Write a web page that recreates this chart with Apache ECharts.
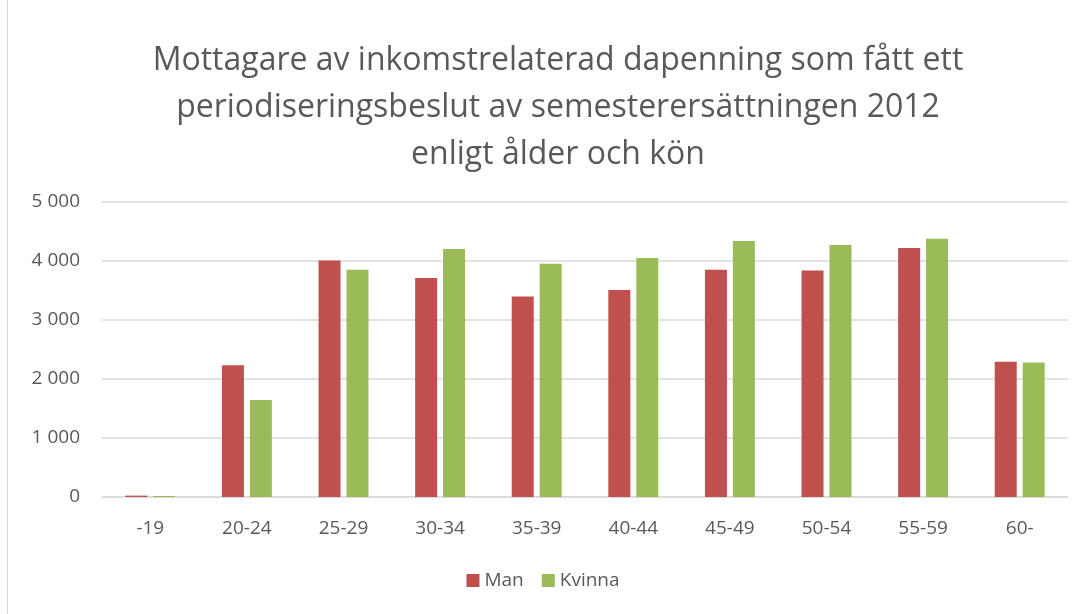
<!DOCTYPE html>
<html lang="sv">
<head>
    <meta charset="UTF-8">
    <title>Periodiseringsbeslut 2012</title>
    <script src="https://cdn.jsdelivr.net/npm/echarts@6/dist/echarts.min.js"></script>
    <style>
        html, body { margin: 0; padding: 0; background: #fff; }
        #chart { width: 1086px; height: 614px; }
    </style>
</head>
<body>
<div id="chart"></div>
<script>
    // åldersgrupper
    const ageGroups = ['-19', '20-24', '25-29', '30-34', '35-39', '40-44', '45-49', '50-54', '55-59', '60-'];
    // avlästa värden
    const man =    [23, 2234, 4010, 3710, 3399, 3507, 3852, 3840, 4219, 2291];
    const kvinna = [17, 1646, 3852, 4202, 3954, 4050, 4338, 4270, 4378, 2279];
    const yTicks = [0, 1000, 2000, 3000, 4000, 5000];

    const textColor = '#595959';
    const font = 'Open Sans';

    const chart = echarts.init(document.getElementById('chart'));
    chart.setOption({
        animation: false,
        textStyle: { fontFamily: font },
        graphic: [{
            type: 'rect',
            shape: { x: 7.5, y: -2, width: 1090, height: 620 },
            style: { fill: 'none', stroke: '#d9d9d9', lineWidth: 1 }
        }],
        title: {
            text: 'Mottagare av inkomstrelaterad dapenning som fått ett\nperiodiseringsbeslut av semesterersättningen 2012\nenligt ålder och kön',
            left: 553,
            textAlign: 'center',
            top: 32,
            textStyle: {
                color: textColor,
                fontFamily: font,
                fontWeight: 'normal',
                fontSize: 32,
                lineHeight: 47
            }
        },
        legend: {
            data: ['Man', 'Kvinna'],
            bottom: 19,
            left: 'center',
            itemWidth: 13,
            itemHeight: 13,
            itemGap: 18,
            icon: 'rect',
            textStyle: { color: textColor, fontSize: 19, fontFamily: font }
        },
        grid: { left: 102, right: 18, top: 202, bottom: 117 },
        xAxis: {
            type: 'category',
            data: ageGroups,
            axisLine: { lineStyle: { color: '#d9d9d9', width: 1.5 } },
            axisTick: { show: false },
            axisLabel: { color: textColor, fontSize: 19, margin: 22, fontFamily: font }
        },
        yAxis: {
            type: 'value',
            min: yTicks[0],
            max: yTicks[yTicks.length - 1],
            interval: 1000,
            axisLine: { show: false },
            axisTick: { show: false },
            splitLine: { lineStyle: { color: '#d9d9d9', width: 1.5 } },
            axisLabel: {
                color: textColor,
                fontSize: 19,
                margin: 22,
                fontFamily: font,
                formatter: v => String(v).replace(/\B(?=(\d{3})+(?!\d))/g, ' ')
            }
        },
        series: [
            {
                name: 'Man',
                type: 'bar',
                data: man,
                barWidth: 22,
                barGap: '27%',
                itemStyle: { color: '#c0504d' }
            },
            {
                name: 'Kvinna',
                type: 'bar',
                data: kvinna,
                barWidth: 22,
                itemStyle: { color: '#9bbb59' }
            }
        ]
    });
</script>
</body>
</html>
